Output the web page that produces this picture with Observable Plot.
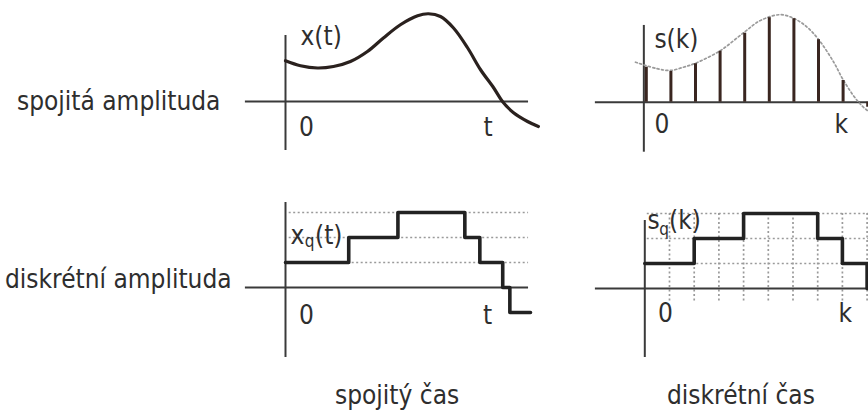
<!DOCTYPE html>
<html><head><meta charset="utf-8">
<script src="https://cdn.jsdelivr.net/npm/d3@7"></script>
<script src="https://cdn.jsdelivr.net/npm/@observablehq/plot@0.6"></script>
<style>
html,body{margin:0;padding:0;background:#fff;overflow:hidden}
#wrap{position:relative;width:868px;height:411px;overflow:hidden;background:#fff}
#wrap svg{position:absolute;left:0;top:0}
.lbl{position:absolute;white-space:nowrap;font-family:"DejaVu Sans Condensed","DejaVu Sans",sans-serif;font-stretch:condensed;font-size:26px;line-height:26px;color:#2e2e2e}
</style></head><body><div id="wrap"></div>
<script>
// ---- data: continuous signal x(t) (spojitý čas, spojitá amplituda)
const contT = [0, 0.61, 1.30, 1.95, 2.64, 3.33, 3.98, 4.67, 5.37, 5.81, 6.30, 6.83, 7.40, 7.93, 8.46, 8.82, 9.27, 9.84, 10.28];
const contX = [1.63, 1.43, 1.34, 1.40, 1.60, 2.00, 2.54, 3.07, 3.43, 3.51, 3.40, 2.94, 2.15, 1.27, 0.55, 0, -0.45, -0.80, -1.00];

// ---- dotted envelope behind the samples s(k)
const envK = [-0.44, 0.44, 0.98, 1.51, 2.00, 3.02, 3.98, 4.64, 5.45, 6.02, 6.54, 7.01, 7.62, 8.00, 8.57, 8.98, 9.40];
const envS = [1.60, 1.34, 1.27, 1.40, 1.56, 2.07, 2.80, 3.27, 3.50, 3.34, 3.00, 2.50, 1.60, 0.90, 0.07, -0.33, -0.60];

// ---- samples s(k)
const sampK = [0, 1, 2, 3, 4, 5, 6, 7, 8, 9];
const sampS = [1.40, 1.23, 1.54, 2.04, 2.76, 3.38, 3.34, 2.50, 0.87, -0.20];

// ---- quantized continuous-time signal x_q(t)
const qtT = [0, 2.57, 4.57, 7.29, 7.90, 8.83, 9.12, 9.96];
const qtX = [1, 2, 3, 2, 1, 0, -1, -1];

// ---- quantized samples s_q(k)
const qkK = [0, 1, 2, 3, 4, 5, 6, 7, 8, 9, 9.6];
const qkS = [1, 1, 2, 2, 3, 3, 3, 2, 1, 0, 0];

// ---- quantization levels and sample grid
const levels = [1, 2, 3];
const gridK = [1, 2, 3, 4, 5, 6, 7, 8, 9];

// ---- axis extents (data units) per panel: [xmin, xmax, ymin, ymax, xAxisPos]
const axTL = [-1.63, 9.88, -1.96, 2.64, 0];
const axTR = [-2.07, 9.6, -2.0, 3.07, -0.1];
const axBL = [-1.63, 9.88, -2.8, 3.4, 0];
const axBR = [-2.0, 9.6, -2.76, 2.72, 0];

// ---- annotations
const annTL = [{s:"x(t)", x:0.61, y:2.58, a:"start"}, {s:"0", x:0.85, y:-1.06, a:"middle"}, {s:"t", x:8.23, y:-1.04, a:"middle"}];
const annTR = [{s:"s(k)", x:0.33, y:2.51, a:"start"}, {s:"0", x:0.64, y:-0.9, a:"middle"}, {s:"k", x:7.93, y:-0.9, a:"middle"}];
const annBL = [{s:"x", x:0.2, y:2.08, a:"start"}, {s:"(t)", x:1.2, y:2.08, a:"start"}, {s:"0", x:0.85, y:-1.12, a:"middle"}, {s:"t", x:8.21, y:-1.12, a:"middle"}];
const subBL = [{s:"q", x:0.78, y:1.84}];
const annBR = [{s:"s", x:0.11, y:2.7, a:"start"}, {s:"(k)", x:0.98, y:2.7, a:"start"}, {s:"0", x:0.84, y:-1.0, a:"middle"}, {s:"k", x:8.12, y:-1.0, a:"middle"}];
const subBR = [{s:"q", x:0.58, y:2.36}];

// ---- text labels
const rowLabels = ["spojitá amplituda", "diskrétní amplituda"];
const colLabels = ["spojitý čas", "diskrétní čas"];

// ---- layout (pixel origin of each panel and unit sizes)
const layout = {
  TL: {ox: 285, oy: 101, U: 24.6, V: 25},
  TR: {ox: 645.8, oy: 101.7, U: 24.6, V: 25},
  BL: {ox: 285, oy: 287, U: 24.6, V: 25},
  BR: {ox: 644.3, oy: 288, U: 24.7, V: 25}
};

const FONT = "DejaVu Sans Condensed, DejaVu Sans, sans-serif";
const TXT = "#2e2e2e";
const AX = "#3a3a3a";
const DOT = {stroke: "#9a9a9a", strokeWidth: 1.7, strokeDasharray: "2,2.5"};

function axes(ax) {
  return [
    Plot.ruleY([0], {x1: ax[0], x2: ax[1], stroke: AX, strokeWidth: 2}),
    Plot.ruleX([ax[4]], {y1: ax[2], y2: ax[3], stroke: AX, strokeWidth: 2})
  ];
}
function labels(ann, sub) {
  const m = [
    Plot.text(ann.filter(d => d.a === "start"), {x: "x", y: "y", text: "s", textAnchor: "start", fontSize: 26, fontFamily: FONT, fill: TXT}),
    Plot.text(ann.filter(d => d.a === "middle"), {x: "x", y: "y", text: "s", textAnchor: "middle", fontSize: 26, fontFamily: FONT, fill: TXT})
  ];
  if (sub) m.push(Plot.text(sub, {x: "x", y: "y", text: "s", textAnchor: "start", fontSize: 17, fontFamily: FONT, fill: TXT}));
  return m;
}
function panel(L, marks) {
  return Plot.plot({
    width: 868, height: 411, margin: 0,
    style: "background:transparent;position:absolute;left:0;top:0;font-stretch:condensed;",
    x: {type: "linear", domain: [0, 1], range: [L.ox, L.ox + L.U], axis: null},
    y: {type: "linear", domain: [0, 1], range: [L.oy, L.oy - L.V], axis: null},
    marks
  });
}

const cont = contT.map((t, i) => ({t, v: contX[i]}));
const env = envK.map((k, i) => ({k, v: envS[i]}));
const samp = sampK.map((k, i) => ({k, v: sampS[i]}));
const qt = qtT.map((t, i) => ({t, v: qtX[i]}));
const qk = qkK.map((k, i) => ({k, v: qkS[i]}));

const wrap = document.getElementById("wrap");

wrap.append(panel(layout.TL, [
  ...axes(axTL),
  Plot.line(cont, {x: "t", y: "v", curve: "catmull-rom", stroke: "#2a211e", strokeWidth: 3.2}),
  ...labels(annTL)
]));

wrap.append(panel(layout.TR, [
  ...axes(axTR),
  Plot.line(env, {x: "k", y: "v", curve: "catmull-rom", ...DOT}),
  Plot.ruleX(samp, {x: "k", y1: 0, y2: "v", stroke: "#3a2620", strokeWidth: 3}),
  ...labels(annTR)
]));

wrap.append(panel(layout.BL, [
  Plot.ruleY(levels, {x1: 0.15, x2: 9.88, ...DOT}),
  ...axes(axBL),
  Plot.line(qt, {x: "t", y: "v", curve: "step-after", stroke: "#222", strokeWidth: 3.6}),
  ...labels(annBL, subBL)
]));

wrap.append(panel(layout.BR, [
  Plot.ruleY(levels, {x1: 0.1, x2: 9.6, ...DOT}),
  Plot.ruleX(gridK, {y1: -0.5, y2: 3.1, ...DOT}),
  ...axes(axBR),
  Plot.line(qk, {x: "k", y: "v", curve: "step-after", stroke: "#222", strokeWidth: 3.6}),
  ...labels(annBR, subBR)
]));

// row / column captions
const capPos = [
  {text: rowLabels[0], left: 17, top: 88},
  {text: rowLabels[1], left: 5, top: 266},
  {text: colLabels[0], left: 335, top: 382},
  {text: colLabels[1], left: 667, top: 382}
];
for (const c of capPos) {
  const d = document.createElement("div");
  d.className = "lbl";
  d.textContent = c.text;
  d.style.left = c.left + "px";
  d.style.top = c.top + "px";
  wrap.append(d);
}
</script>
</body></html>
